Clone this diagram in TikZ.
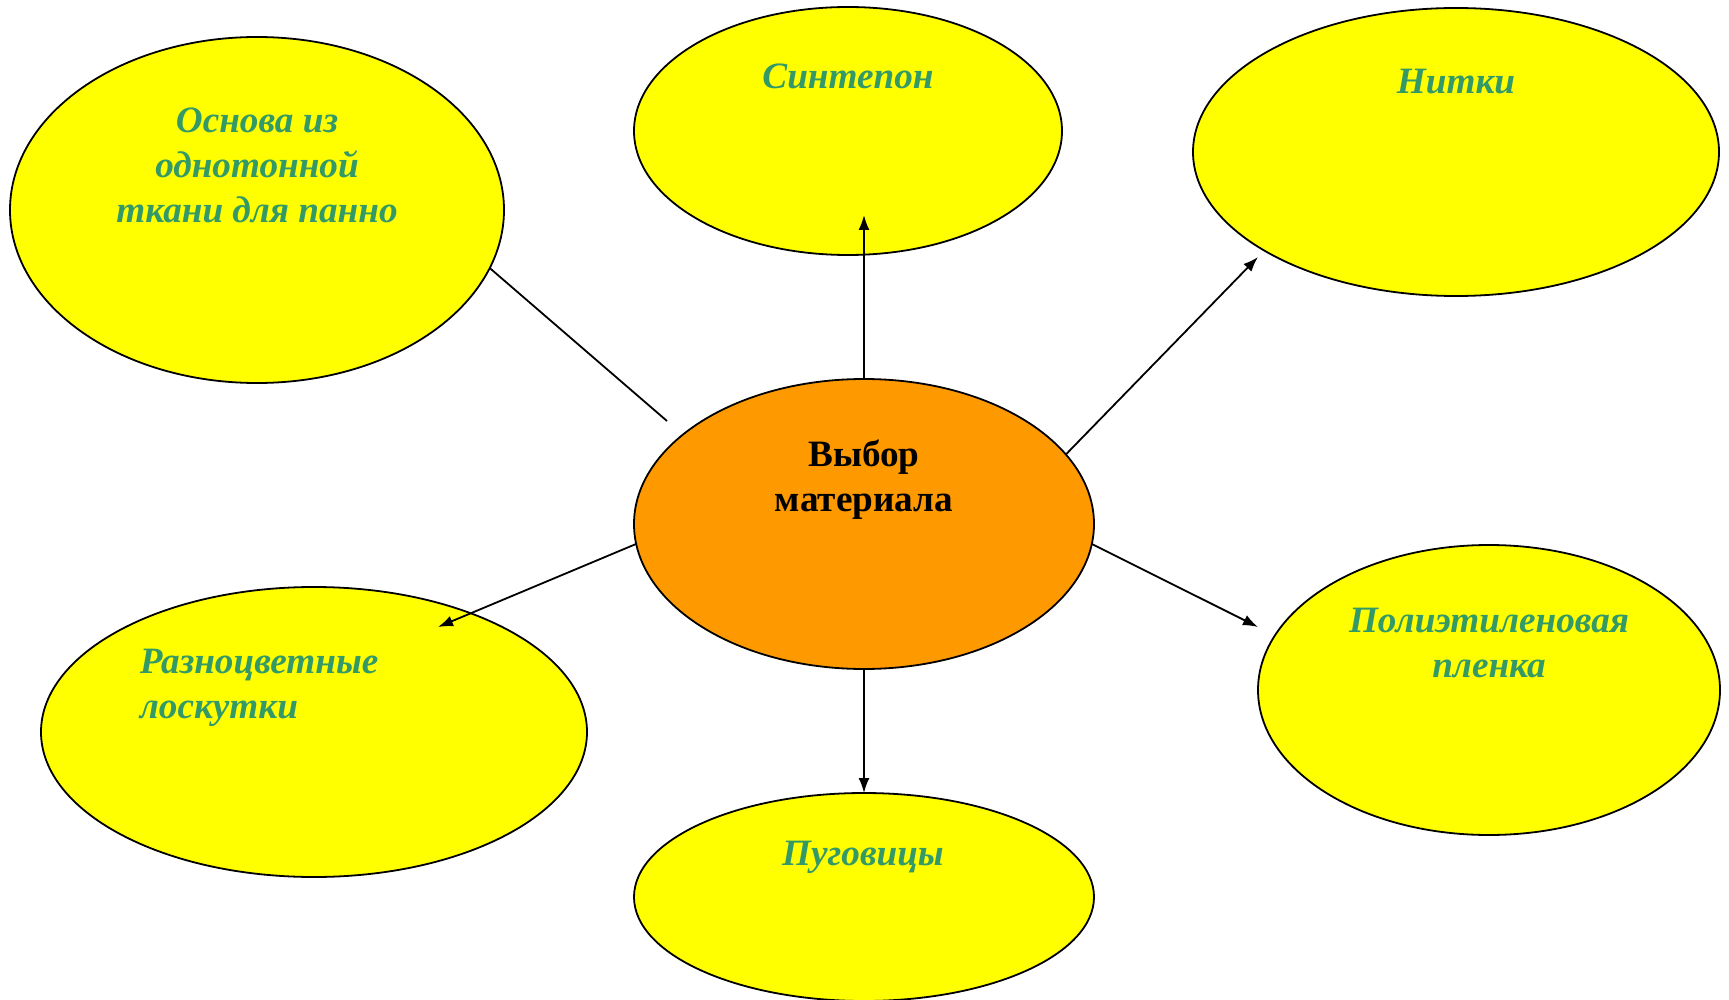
\documentclass[tikz,border=0pt]{standalone}
\usepackage{fontspec}
\setmainfont{Liberation Serif}
\usepackage{tikz}
\usetikzlibrary{shapes.geometric}
\usetikzlibrary{arrows.meta}
\definecolor{bubble}{HTML}{FFFF00}
\definecolor{hub}{HTML}{FF9900}
\definecolor{ink}{HTML}{339966}
\tikzstyle{map}=[x=0.5pt, y=-0.5pt, line width=0.9pt]
\tikzstyle{blob}=[ellipse, draw=black, fill=bubble, inner sep=0pt, outer sep=0pt]
\tikzstyle{core}=[blob, fill=hub]
\tikzstyle{word}=[inner sep=0pt, align=center, text=ink, font=\bfseries\itshape\fontsize{18.6}{22.5}\selectfont]
\tikzstyle{coreword}=[word, text=black, font=\bfseries\fontsize{18.6}{22.5}\selectfont]
\tikzstyle{edge}=[line width=0.9pt, -{Latex[length=7.5pt, width=5.5pt]}]

\begin{document}
\begin{tikzpicture}[map]
	\useasboundingbox (0,0) rectangle (1729,1000);
	\draw (257,210) node[blob, minimum width=247pt, minimum height=173pt] (osn) {};
	\draw (848,131) node[blob, minimum width=214pt, minimum height=124pt] (sin) {};
	\draw (1456,152) node[blob, minimum width=263pt, minimum height=144pt] (nit) {};
	\draw (314,732) node[blob, minimum width=273pt, minimum height=145pt] (raz) {};
	\draw (1489,690) node[blob, minimum width=231pt, minimum height=145pt] (pol) {};
	\draw (864,897) node[blob, minimum width=230pt, minimum height=104pt] (pug) {};
	\draw (864,524) node[core, minimum width=230pt, minimum height=145pt] (mat) {};
	% labels
	\draw (257,165) node[word] (osnT) {Основа из\\однотонной\\ткани для панно};
	\draw (848,76) node[word] (sinT) {Синтепон};
	\draw (1456,82) node[word] (nitT) {Нитки};
	\draw (864,480) node[coreword] (matT) {Выбор\\материала};
	\draw (139,688) node[word, anchor=west, align=left] (razT) {Разноцветные\\лоскутки};
	\draw (1489,643) node[word] (polT) {Полиэтиленовая\\пленка};
	\draw (863,857) node[word] (pugT) {Пуговицы};
	% free ends
	\coordinate (osnEnd) at (667,421);
	\coordinate (sinEnd) at (864,215);
	\coordinate (nitEnd) at (1258,257);
	\coordinate (razEnd) at (438,627);
	\coordinate (polEnd) at (1258,627);
	\draw (osn.-14.8) -- (osnEnd);
	\draw[edge] (mat.north) -- (sinEnd);
	\draw[edge] (mat.19.5) -- (nitEnd);
	\draw[edge] (mat.185) -- (razEnd);
	\draw[edge] (mat.-5) -- (polEnd);
	\draw[edge] (mat.south) -- (pug.north);
\end{tikzpicture}
\end{document}
